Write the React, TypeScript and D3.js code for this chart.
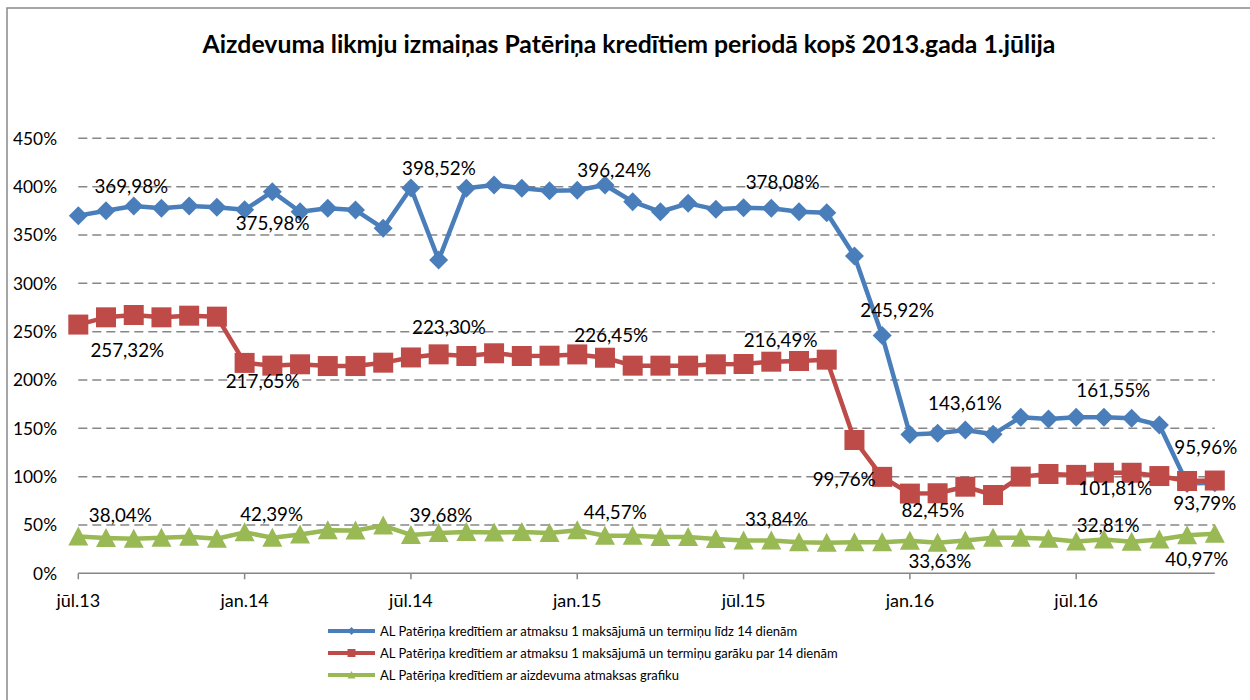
import React from 'react';
import * as d3 from 'd3';

const months = [
  'jūl.13', 'aug.13', 'sep.13', 'okt.13', 'nov.13', 'dec.13',
  'jan.14', 'feb.14', 'mar.14', 'apr.14', 'mai.14', 'jūn.14',
  'jūl.14', 'aug.14', 'sep.14', 'okt.14', 'nov.14', 'dec.14',
  'jan.15', 'feb.15', 'mar.15', 'apr.15', 'mai.15', 'jūn.15',
  'jūl.15', 'aug.15', 'sep.15', 'okt.15', 'nov.15', 'dec.15',
  'jan.16', 'feb.16', 'mar.16', 'apr.16', 'mai.16', 'jūn.16',
  'jūl.16', 'aug.16', 'sep.16', 'okt.16', 'nov.16', 'dec.16',
];

const shortTerm = [
  369.98, 375.1, 380.0, 377.6, 380.0, 378.6, 375.98, 394.8, 374.0, 377.6, 375.8, 356.9,
  398.52, 324.1, 398.3, 401.7, 398.3, 395.8, 396.24, 401.7, 384.4, 374.0, 382.7, 376.5,
  378.08, 377.6, 374.0, 373.0, 328.2, 245.92, 143.61, 144.8, 148.2, 143.8, 161.4, 159.6,
  161.55, 161.4, 160.5, 153.4, 93.0, 93.79,
];

const longTerm = [
  257.32, 264.8, 267.2, 264.8, 266.5, 265.5, 217.65, 214.8, 216.2, 214.4, 214.4, 217.9,
  223.3, 226.5, 224.8, 227.6, 224.8, 225.1, 226.45, 223.0, 214.8, 214.8, 214.8, 216.2,
  216.49, 218.9, 219.6, 221.0, 137.9, 99.76, 82.45, 82.8, 89.6, 81.0, 100.0, 102.7,
  101.81, 104.0, 104.0, 100.6, 95.5, 95.96,
];

const schedule = [
  38.04, 36.6, 35.7, 36.7, 37.8, 35.7, 42.39, 36.8, 40.1, 44.6, 44.3, 49.4,
  39.68, 41.6, 42.6, 42.3, 42.6, 41.6, 44.57, 38.9, 38.9, 37.6, 37.6, 35.6,
  33.84, 34.0, 32.2, 31.7, 32.2, 32.2, 33.63, 31.5, 34.0, 36.7, 36.7, 35.7,
  32.81, 35.0, 32.7, 35.0, 39.4, 40.97,
];

const seriesNames = [
  'AL Patēriņa kredītiem ar atmaksu 1 maksājumā un termiņu līdz 14 dienām',
  'AL Patēriņa kredītiem ar atmaksu 1 maksājumā un termiņu garāku par 14 dienām',
  'AL Patēriņa kredītiem ar aizdevuma atmaksas grafiku',
];

const yTicks = [0, 50, 100, 150, 200, 250, 300, 350, 400, 450];

// which points carry a value label, and where the label sits relative to the point
const labelPlacement = [
  { s: 0, i: 0, dx: 53, dy: -23 },
  { s: 0, i: 6, dx: 28, dy: 20 },
  { s: 0, i: 12, dx: 28, dy: -13 },
  { s: 0, i: 18, dx: 37, dy: -13 },
  { s: 0, i: 24, dx: 39, dy: -19 },
  { s: 0, i: 29, dx: 15, dy: -19 },
  { s: 0, i: 30, dx: 55, dy: -24 },
  { s: 0, i: 36, dx: 37, dy: -20 },
  { s: 0, i: 41, dx: -10, dy: 27 },
  { s: 1, i: 0, dx: 49, dy: 32 },
  { s: 1, i: 6, dx: 18, dy: 25 },
  { s: 1, i: 12, dx: 38, dy: -23 },
  { s: 1, i: 18, dx: 34, dy: -12 },
  { s: 1, i: 24, dx: 37, dy: -17 },
  { s: 1, i: 29, dx: -38, dy: 9 },
  { s: 1, i: 30, dx: 23, dy: 23 },
  { s: 1, i: 36, dx: 39, dy: 20 },
  { s: 1, i: 41, dx: -9, dy: -27 },
  { s: 2, i: 0, dx: 42, dy: -15 },
  { s: 2, i: 6, dx: 27, dy: -11 },
  { s: 2, i: 12, dx: 30, dy: -13 },
  { s: 2, i: 18, dx: 38, dy: -11 },
  { s: 2, i: 24, dx: 33, dy: -15 },
  { s: 2, i: 30, dx: 30, dy: 27 },
  { s: 2, i: 36, dx: 32, dy: -10 },
  { s: 2, i: 41, dx: -18, dy: 32 },
];

const colors = ['#4A7EBB', '#BE4B48', '#98B954'];
const FONT = 'Lato, "Open Sans", sans-serif';

const marker = (kind: number, x: number, y: number, r: number) => {
  if (kind === 0) return `M${x},${y - r}L${x + r},${y}L${x},${y + r}L${x - r},${y}Z`;
  if (kind === 1) return `M${x - r},${y - r}H${x + r}V${y + r}H${x - r}Z`;
  return `M${x},${y - r}L${x + r},${y + r * 0.9}L${x - r},${y + r * 0.9}Z`;
};

const fmt = (v: number) => d3.format('.2f')(v).replace('.', ',') + '%';

const App: React.FC = () => {
  const width = 1250;
  const height = 700;
  const series = [shortTerm, longTerm, schedule];

  const x = d3.scaleLinear().domain([0, months.length - 1]).range([78.3, 1214.8]);
  const y = d3.scaleLinear().domain([0, 450]).range([573.3, 138.3]);

  const line = d3.line<number>()
    .x((_, i) => x(i))
    .y(d => y(d));

  const legendY = [631, 653, 675];

  return (
    <div style={{ position: 'absolute', left: 0, top: 0 }}>
      <svg width={width} height={height} style={{ display: 'block', background: '#fff' }}>
        <rect x={7} y={8} width={width} height={height} fill="#fff" stroke="#898989" strokeWidth={1.5} />
        <text x={629} y={53} textAnchor="middle" fontFamily={FONT} fontWeight="bold" fontSize={24.8} fill="#000">
          Aizdevuma likmju izmaiņas Patēriņa kredītiem periodā kopš 2013.gada 1.jūlija
        </text>

        {yTicks.filter(t => t > 0).map(t => (
          <line key={t} x1={x(0)} x2={x(months.length - 1)} y1={y(t)} y2={y(t)}
            stroke="#878787" strokeWidth={1.5} strokeDasharray="9,5" />
        ))}
        {yTicks.map(t => (
          <text key={t} x={57} y={y(t)} dy="0.36em" textAnchor="end" fontFamily={FONT} fontSize={17.3} fill="#000">
            {t}%
          </text>
        ))}

        <line x1={x(0)} x2={x(months.length - 1)} y1={y(0)} y2={y(0)} stroke="#868686" strokeWidth={1.5} />
        {months.map((m, i) => i % 6 === 0 && (
          <g key={m}>
            <line x1={x(i)} x2={x(i)} y1={y(0)} y2={y(0) + 6} stroke="#868686" strokeWidth={1.5} />
            <text x={x(i)} y={606.7} textAnchor="middle" fontFamily={FONT} fontSize={18} fill="#000">{m}</text>
          </g>
        ))}

        {series.map((data, s) => (
          <g key={s}>
            <path d={line(data) || ''} fill="none" stroke={colors[s]} strokeWidth={4.5} strokeLinejoin="round" />
            {data.map((v, i) => (
              <path key={i} d={marker(s, x(i), y(v), s === 0 ? 9.5 : 10)} fill={colors[s]} />
            ))}
          </g>
        ))}

        {labelPlacement.map((l, k) => {
          const v = series[l.s][l.i];
          return (
            <text key={k} x={x(l.i) + l.dx} y={y(v) + l.dy} textAnchor="middle"
              fontFamily={FONT} fontSize={18.8} fill="#000">{fmt(v)}</text>
          );
        })}

        {seriesNames.map((name, s) => (
          <g key={name}>
            <line x1={328} x2={375} y1={legendY[s]} y2={legendY[s]} stroke={colors[s]} strokeWidth={4} />
            <path d={marker(s, 351.5, legendY[s], 4)} fill={colors[s]} />
            <text x={380} y={legendY[s]} dy="0.35em" fontFamily={FONT} fontSize={13} fill="#000">{name}</text>
          </g>
        ))}
      </svg>
    </div>
  );
};

export default App;
